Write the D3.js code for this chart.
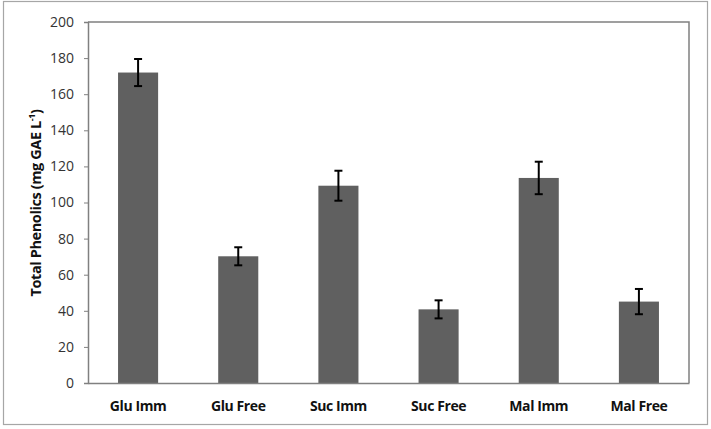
<!DOCTYPE html>
<html><head><meta charset="utf-8">
<script src="https://cdn.jsdelivr.net/npm/d3@7"></script>
<style>body{margin:0;background:#fff}svg{display:block}</style>
</head><body>
<script>
const categories = ["Glu Imm","Glu Free","Suc Imm","Suc Free","Mal Imm","Mal Free"];
const values = [172, 70.2, 109.3, 40.8, 113.6, 45.1];
const errors = [7.5, 5, 8.3, 5, 9, 7];
const yTicks = [0,20,40,60,80,100,120,140,160,180,200];

const W = 711, H = 429;
const m = {left:88, right:W-689, top:22, bottom:H-383};
const svg = d3.select("body").append("svg").attr("width",W).attr("height",H);
svg.append("rect").attr("x",3.5).attr("y",1.5).attr("width",704).attr("height",423)
  .attr("fill","#fff").attr("stroke","#a6a6a6").attr("stroke-width",1.2);

const x = d3.scaleBand().domain(categories).range([m.left, W-m.right]).paddingInner(0.6).paddingOuter(0.3);
const y = d3.scaleLinear().domain([0,200]).range([H-m.bottom, m.top]);

// plot area border (top/right)
svg.append("path").attr("d",`M${m.left},${m.top}H${W-m.right}V${H-m.bottom}`)
  .attr("fill","none").attr("stroke","#808080").attr("stroke-width",1.5);

svg.selectAll("rect.bar").data(values).join("rect").attr("class","bar")
  .attr("x",(d,i)=>x(categories[i])).attr("width",x.bandwidth())
  .attr("y",d=>y(d)).attr("height",d=>y(0)-y(d)).attr("fill","#606060");

const eb = svg.append("g").attr("stroke","#000").attr("stroke-width",2);
values.forEach((v,i)=>{
  const cx = x(categories[i]) + x.bandwidth()/2;
  eb.append("line").attr("x1",cx).attr("x2",cx).attr("y1",y(v+errors[i])).attr("y2",y(v-errors[i]));
  [v+errors[i], v-errors[i]].forEach(t=>{
    eb.append("line").attr("x1",cx-4).attr("x2",cx+4).attr("y1",y(t)).attr("y2",y(t));
  });
});

const ya = svg.append("g").attr("transform",`translate(${m.left},0)`)
  .call(d3.axisLeft(y).tickValues(yTicks).tickSize(4).tickPadding(10));
ya.select(".domain").attr("stroke","#808080").attr("stroke-width",1.5);
ya.selectAll(".tick line").attr("stroke","#808080");
ya.selectAll("text").attr("font-family","'Open Sans', sans-serif").attr("font-size",14).attr("fill","#333");

const xa = svg.append("g").attr("transform",`translate(0,${H-m.bottom})`)
  .call(d3.axisBottom(x).tickSize(0).tickPadding(18));
xa.select(".domain").attr("stroke","#808080").attr("stroke-width",1.5);
xa.selectAll("text").attr("font-family","'Open Sans', sans-serif").attr("font-size",14)
  .attr("font-weight","bold").attr("fill","#111").attr("letter-spacing","-0.4");

const t = svg.append("text").attr("transform","translate(41,203) rotate(-90)")
  .attr("text-anchor","middle").attr("font-family","'Open Sans', sans-serif")
  .attr("font-size",14.5).attr("font-weight","bold").attr("fill","#111").attr("letter-spacing","-0.4");
t.append("tspan").text("Total Phenolics (mg GAE L");
t.append("tspan").text("-1").attr("font-size",9).attr("dy",-6);
t.append("tspan").text(")").attr("dy",6);
</script>
</body></html>
